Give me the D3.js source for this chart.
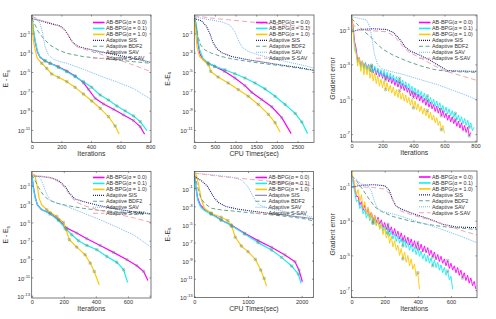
<!DOCTYPE html>
<html>
<head>
<meta charset="utf-8">
<script src="https://cdn.jsdelivr.net/npm/d3@7"></script>
<style>
  body { margin: 0; background: #fff; }
  text { font-family: "Liberation Sans", Arial, Helvetica, sans-serif; fill: #333; }
</style>
</head>
<body>
<svg id="chart" width="496" height="319"></svg>
<script>
// Series names (legend order) and line styles
const seriesNames = ["AB-BPG(α = 0.0)", "AB-BPG(α = 0.1)", "AB-BPG(α = 1.0)",
  "Adaptive SIS", "Adaptive BDF2", "Adaptive SAV", "Adaptive S-SAV"];
const colors = ["#ff00ff", "#14eeee", "#ffc800", "#1c1c80", "#5ea68a", "#7ab8ee", "#f5a3b0"];
const dashes = [null, null, null, "1,1", "4,2.5", "1,1", "5,3"];
const widths = [1.2, 1.2, 1.2, 1.1, 1.0, 1.0, 1.0];

// All values are log10 of the plotted quantity.
// Smooth series: [iteration or CPU time, log10 value]

// ---- Panel 1: E - Es vs iterations
const p1A00 = [[0,0.9],[11,-0.66],[23,-1.86],[38,-2.9],[56,-3.48],[90,-3.86],[124,-4.1],[180,-4.45],[237,-4.9],[293,-5.41],[349,-6.1],[383,-6.79],[428,-7.72],[485,-8.31],[552,-8.86],[620,-9.45],[687,-10.03],[732,-10.66],[762,-11.45]];
const p1A01 = [[0,0.9],[11,-0.48],[23,-1.69],[38,-2.79],[56,-3.41],[90,-3.83],[124,-4.1],[180,-4.52],[237,-4.97],[293,-5.48],[349,-6.0],[405,-6.59],[462,-7.38],[518,-7.9],[575,-8.52],[631,-9.03],[687,-9.55],[732,-10.14],[778,-11.07]];
const p1A10 = [[0,0.9],[5,-0.31],[11,-1.69],[23,-2.72],[38,-3.59],[68,-4.1],[101,-4.62],[135,-5.21],[180,-5.55],[237,-6.0],[293,-6.59],[349,-7.28],[405,-8.0],[462,-8.76],[518,-9.62],[563,-10.59],[590,-11.41]];
const p1SIS = [[0,0.55],[56,0.31],[124,0.03],[192,-0.24],[225,-0.66],[259,-1.52],[282,-2.03],[316,-2.38],[372,-2.59],[462,-2.9],[575,-3.24],[687,-3.59],[805,-4.0]];
const p1BDF2 = [[0,0.55],[23,-0.14],[45,-0.83],[79,-1.52],[124,-2.21],[180,-2.72],[237,-3.07],[349,-3.41],[462,-3.59],[575,-3.76],[687,-3.93],[805,-4.1]];
const p1SAV = [[0,0.72],[34,0.55],[56,0.03],[74,-1],[90,-2.38],[113,-3.24],[147,-3.69],[192,-3.93],[237,-4.1],[349,-4.72],[462,-5.41],[575,-6.03],[687,-6.72],[805,-7.83]];
const p1SSAV = [[0,0.79],[56,0.38],[124,0.1],[192,-0.31],[237,-0.83],[270,-1.86],[304,-2.38],[372,-2.72],[462,-3.14],[575,-3.69],[687,-4.28],[805,-4.97]];

// ---- Panel 2: E - Es vs CPU time (sec)
const p2A00 = [[0,0.88],[49,-0.32],[89,-2.03],[130,-3.05],[211,-3.74],[333,-4.08],[495,-4.42],[739,-4.94],[983,-5.62],[1226,-6.41],[1389,-7.1],[1632,-7.85],[1876,-8.6],[2119,-9.73],[2347,-11.38]];
const p2A01 = [[0,0.88],[49,-0.14],[89,-1.68],[130,-2.71],[211,-3.57],[333,-4.08],[495,-4.42],[739,-4.77],[983,-5.18],[1226,-5.62],[1470,-6.14],[1713,-6.75],[1957,-7.51],[2200,-8.36],[2444,-9.29],[2606,-10.18],[2745,-11.38]];
const p2A10 = [[0,0.88],[32,-0.66],[65,-2.37],[130,-3.4],[252,-3.91],[349,-4.25],[398,-4.94],[577,-5.52],[820,-6.14],[1064,-6.82],[1307,-7.51],[1551,-8.36],[1795,-9.39],[1957,-10.25],[2079,-11.21]];
const p2SIS = [[0,0.54],[171,0.3],[292,-0.25],[374,-1],[455,-1.96],[536,-2.54],[658,-2.99],[901,-3.4],[1307,-3.74],[1713,-4.01],[2119,-4.29],[2525,-4.53],[2900,-4.84]];
const p2BDF2 = [[0,0.55],[49,-0.32],[89,-1.34],[154,-2.2],[252,-2.71],[414,-3.05],[658,-3.4],[901,-3.64],[1307,-3.91],[1713,-4.15],[2119,-4.36],[2525,-4.6],[2900,-4.84]];
const p2SAV = [[0,0.71],[333,0.44],[658,0.2],[861,-0.14],[983,-0.83],[1064,-1.68],[1161,-2.47],[1307,-2.88],[1551,-3.23],[1876,-3.57],[2282,-3.98],[2688,-4.36],[2900,-4.6]];
const p2SSAV = [[0,0.82],[495,0.54],[901,0.37],[1307,0.2],[1713,0.03],[2119,-0.11],[2525,-0.25],[2900,-0.38]];

// ---- Panel 4: E - Es vs iterations
const p4A00 = [[0,0.38],[10,-1.07],[21,-2.16],[35,-3.07],[62,-3.62],[115,-3.98],[167,-4.71],[219,-5.62],[281,-6.16],[344,-6.78],[427,-7.51],[510,-8.27],[594,-9.07],[656,-9.73],[698,-10.35],[725,-11.33]];
const p4A01 = [[0,0.38],[10,-1.25],[23,-2.45],[42,-3.25],[73,-3.69],[115,-4.09],[167,-4.78],[208,-5.62],[250,-6.35],[292,-7.0],[344,-7.51],[406,-7.98],[469,-8.71],[531,-9.36],[573,-10.16],[598,-11.55]];
const p4A10 = [[0,0.38],[21,0.09],[35,-1.07],[46,-2.35],[62,-3.07],[94,-3.62],[156,-4.35],[198,-5.0],[215,-5.8],[235,-6.89],[281,-7.69],[333,-8.53],[365,-9.44],[390,-10.35],[421,-11.8]];
const p4SIS = [[0,0.09],[52,0.02],[115,-0.09],[167,-0.42],[208,-1.07],[240,-1.91],[271,-2.45],[344,-2.82],[427,-3.18],[531,-3.55],[635,-3.84],[744,-4.05]];
const p4BDF2 = [[0,0.2],[21,-0.42],[42,-1.15],[69,-1.91],[104,-2.53],[156,-2.89],[219,-3.15],[323,-3.47],[427,-3.69],[531,-3.84],[635,-3.95],[744,-4.09]];
const p4SAV = [[0,0.2],[42,0.02],[62,-0.42],[79,-1.25],[98,-2.09],[119,-2.6],[156,-2.89],[219,-3.25],[323,-3.98],[427,-4.71],[531,-5.51],[635,-6.35],[744,-7.69]];
const p4SSAV = [[0,0.2],[73,0.02],[135,-0.24],[187,-0.78],[229,-1.8],[271,-2.71],[323,-3.15],[427,-3.69],[531,-4.09],[635,-4.49],[744,-5.0]];

// ---- Panel 5: E - Es vs CPU time (sec)
const p5A00 = [[0,0.66],[25,-0.63],[63,-2.11],[113,-2.85],[188,-3.32],[313,-3.77],[500,-4.51],[688,-5.06],[938,-5.98],[1188,-6.79],[1438,-7.53],[1688,-8.38],[1875,-9.12],[1950,-10.04],[2013,-11.33]];
const p5A01 = [[0,0.66],[25,-0.82],[63,-2.29],[113,-3.03],[188,-3.47],[313,-3.88],[500,-4.51],[688,-5.13],[938,-6.06],[1188,-7.01],[1438,-7.83],[1625,-8.64],[1813,-9.6],[1938,-10.48],[1988,-11.52]];
const p5A10 = [[0,0.66],[44,0.37],[81,-0.63],[125,-2.11],[188,-3.21],[313,-3.77],[500,-4.21],[625,-4.58],[700,-5.24],[763,-6.42],[875,-7.38],[1000,-8.01],[1138,-8.86],[1238,-10.04],[1300,-10.96],[1344,-11.81]];
const p5SIS = [[0,0.29],[125,-0.15],[238,-0.74],[313,-1.48],[375,-2.11],[450,-2.59],[594,-3.03],[813,-3.32],[1125,-3.58],[1438,-3.8],[1750,-4.03],[2063,-4.25],[2220,-4.39]];
const p5BDF2 = [[0,0.48],[44,-0.45],[81,-1.37],[125,-2.11],[188,-2.66],[313,-3.21],[500,-3.4],[813,-3.58],[1125,-3.77],[1438,-3.95],[1750,-4.14],[2063,-4.39],[2220,-4.62]];
const p5SAV = [[0,0.66],[375,0.44],[688,0.22],[875,-0.08],[988,-0.74],[1063,-1.55],[1138,-2.37],[1219,-2.88],[1375,-3.21],[1625,-3.51],[1938,-3.84],[2220,-4.21]];
const p5SSAV = [[0,0.66],[375,0.37],[688,0.18],[1000,0],[1313,-0.19],[1625,-0.37],[1938,-0.56],[2220,-0.74]];

// ---- Panels 3 and 6: gradient error vs iterations
const p3SIS = [[0,-1.13],[54,-1],[141,-0.96],[227,-1],[270,-1.17],[313,-1.58],[346,-2],[378,-2.23],[443,-2.48],[508,-2.77],[573,-3.12],[616,-3.35],[681,-3.38],[810,-3.4]];
const p3BDF2 = [[0,-0.37],[32,-0.65],[76,-1.08],[119,-1.38],[162,-1.81],[205,-2.15],[270,-2.48],[357,-2.81],[443,-3.08],[530,-3.29],[616,-3.4],[810,-3.46]];
const p3SAV = [[0,-0.27],[54,-0.37],[97,-0.46],[119,-0.85],[134,-1.62],[147,-2.38],[166,-2.96],[195,-3.25],[249,-3.4],[335,-3.58],[443,-3.87],[551,-4.15],[659,-4.5],[746,-4.79],[810,-5.04]];
const p3SSAV = [[0,-0.65],[54,-1.04],[141,-1.08],[227,-1.13],[281,-1.42],[324,-1.9],[368,-2.29],[443,-2.62],[530,-3.06],[595,-3.35],[681,-3.58],[810,-3.92]];

const p6SIS = [[0,-1.08],[50,-0.96],[131,-0.92],[201,-0.98],[227,-1.23],[247,-1.75],[267,-2.14],[301,-2.33],[371,-2.59],[472,-2.91],[552,-3.21],[633,-3.36],[757,-3.4]];
const p6BDF2 = [[0,-0.4],[30,-0.69],[70,-1.23],[106,-1.75],[141,-2.2],[181,-2.47],[251,-2.76],[351,-3.01],[452,-3.2],[552,-3.34],[673,-3.44],[757,-3.5]];
const p6SAV = [[0,-0.4],[60,-0.88],[100,-0.98],[120,-1.31],[141,-1.95],[161,-2.33],[191,-2.47],[271,-2.66],[371,-2.97],[472,-3.26],[572,-3.59],[673,-3.94],[757,-4.27]];
const p6SSAV = [[0,-0.5],[50,-1.04],[131,-1.08],[201,-1.17],[231,-1.46],[261,-2.04],[295,-2.43],[371,-2.68],[472,-2.95],[572,-3.26],[673,-3.59],[757,-3.82]];

// Noisy AB-BPG gradient errors: log10 values sampled every 10 iterations
const gradStep = 10;
const p3A00 = [-0.2,-0.8,-1.7,-2.1,-2.8,-2.6,-3.1,-2.8,-3.2,-2.9,-3.3,-3.0,-3.4,-3.1,-3.5,-3.2,-3.6,-3.3,-3.7,-3.4,-3.8,-3.5,-3.9,-3.6,-4.0,-3.7,-4.1,-3.8,-4.2,-3.9,-4.3,-4.0,-4.4,-4.1,-4.5,-4.2,-4.6,-4.35,-4.8,-4.5,-4.9,-4.6,-5.0,-4.7,-5.1,-4.8,-5.2,-4.95,-5.35,-5.05,-5.45,-5.15,-5.55,-5.3,-5.7,-5.4,-5.8,-5.5,-5.95,-5.65,-6.05,-5.8,-6.2,-5.9,-6.3,-6.0,-6.4,-6.15,-6.55,-6.25,-6.65,-6.35,-6.8,-6.5,-6.9,-6.6,-7.1,-6.9];
const p3A01 = [-0.3,-1.1,-1.9,-2.3,-2.9,-2.7,-3.2,-2.8,-3.3,-2.9,-3.35,-3.0,-3.4,-3.05,-3.45,-3.1,-3.5,-3.2,-3.6,-3.3,-3.7,-3.35,-3.75,-3.45,-3.85,-3.5,-3.9,-3.6,-4.0,-3.7,-4.1,-3.8,-4.2,-3.9,-4.3,-4.0,-4.4,-4.1,-4.55,-4.25,-4.65,-4.35,-4.75,-4.45,-4.85,-4.55,-4.95,-4.65,-5.05,-4.8,-5.2,-4.9,-5.3,-5.0,-5.4,-5.1,-5.5,-5.2,-5.6,-5.35,-5.75,-5.45,-5.85,-5.55,-5.95,-5.65,-6.05,-5.8,-6.2,-5.9,-6.3,-6.0,-6.4,-6.1,-6.5,-6.2,-6.6,-6.35,-6.8,-6.6];
const p3A10 = [-0.1,-1.0,-2.2,-2.4,-3.1,-2.6,-3.4,-2.8,-3.6,-3.0,-3.6,-3.1,-3.8,-3.35,-3.95,-3.5,-4.1,-3.65,-4.25,-3.85,-4.35,-3.95,-4.45,-4.05,-4.55,-4.2,-4.65,-4.3,-4.8,-4.45,-4.9,-4.5,-5.0,-4.65,-5.1,-4.75,-5.2,-4.9,-5.35,-5.0,-5.5,-5.1,-5.6,-5.25,-5.7,-5.4,-5.85,-5.5,-5.95,-5.65,-6.1,-5.75,-6.2,-5.9,-6.35,-6.05,-6.5,-6.25,-6.75,-6.5,-6.95];
const p6A00 = [-0.2,-0.6,-1.1,-1.6,-1.6,-2.1,-1.9,-2.4,-2.1,-2.6,-2.3,-2.8,-2.5,-3.0,-2.7,-3.1,-2.8,-3.2,-2.95,-3.4,-3.1,-3.5,-3.2,-3.65,-3.35,-3.8,-3.45,-3.9,-3.6,-4.05,-3.7,-4.15,-3.85,-4.3,-3.95,-4.4,-4.05,-4.5,-4.15,-4.6,-4.25,-4.7,-4.35,-4.8,-4.45,-4.85,-4.55,-5.0,-4.7,-5.1,-4.8,-5.25,-4.95,-5.35,-5.05,-5.45,-5.2,-5.6,-5.3,-5.75,-5.45,-5.85,-5.6,-6.0,-5.7,-6.15,-5.85,-6.3,-6.0,-6.45,-6.15,-6.6,-6.3,-6.75,-6.5,-6.95];
const p6A01 = [-0.3,-0.9,-1.4,-1.9,-1.8,-2.3,-2.1,-2.6,-2.35,-2.85,-2.55,-3.0,-2.7,-3.15,-2.85,-3.3,-3.0,-3.45,-3.15,-3.6,-3.3,-3.75,-3.45,-3.9,-3.6,-4.05,-3.75,-4.2,-3.85,-4.3,-4.0,-4.45,-4.1,-4.55,-4.25,-4.7,-4.35,-4.8,-4.5,-4.95,-4.6,-5.05,-4.75,-5.2,-4.9,-5.35,-5.0,-5.45,-5.15,-5.6,-5.25,-5.7,-5.4,-5.85,-5.55,-6.0,-5.7,-6.15,-5.9,-6.4,-6.2,-6.95];
const p6A10 = [-0.1,-0.5,-1.0,-1.5,-1.2,-1.9,-1.5,-2.3,-1.9,-2.6,-2.2,-2.9,-2.5,-3.1,-2.7,-3.3,-2.9,-3.5,-3.2,-3.8,-3.4,-4.0,-3.7,-4.3,-3.9,-4.5,-4.15,-4.7,-4.4,-5.0,-4.6,-5.2,-4.8,-5.4,-5.0,-5.6,-5.2,-5.8,-5.5,-6.2,-6.0,-6.95];

// Tick values (log10 exponents for the y axes)
const xTicksIter800 = [0, 200, 400, 600, 800];
const xTicksIter600 = [0, 200, 400, 600];
const xTicksCpu2 = [0, 500, 1000, 1500, 2000, 2500];
const xTicksCpu5 = [0, 1000, 2000];
const yTicksTop = [-1, -3, -5, -7, -9, -11];
const yTicksBottom = [-1, -3, -5, -7, -9, -11, -13];
const yTicksGrad = [-1, -3, -5, -7];

const withIters = arr => arr.map((v, i) => [i * gradStep, v]);

// Panel layout
const panels = [
  { box: [31.7, 15, 151, 142.5], xMax: 805, yExp: [-12.3, 0.9], xTicks: xTicksIter800, yTicks: yTicksTop,
    xLabel: "Iterations", yLabel: "E - E", ySub: "s", ylx: 8,
    series: [p1A00, p1A01, p1A10, p1SIS, p1BDF2, p1SAV, p1SSAV], noisy: false },
  { box: [194.3, 15, 314, 142.5], xMax: 2900, yExp: [-12.3, 0.9], xTicks: xTicksCpu2, yTicks: yTicksTop,
    xLabel: "CPU Times(sec)", yLabel: "E-E", ySub: "s", ylx: 169.5,
    series: [p2A00, p2A01, p2A10, p2SIS, p2BDF2, p2SAV, p2SSAV], noisy: false },
  { box: [351.5, 15, 477, 142], xMax: 810, yExp: [-7.45, -0.17], xTicks: xTicksIter800, yTicks: yTicksGrad,
    xLabel: "Iterations", yLabel: "Gradient error", ySub: "", ylx: 335,
    series: [withIters(p3A00), withIters(p3A01), withIters(p3A10), p3SIS, p3BDF2, p3SAV, p3SSAV], noisy: true },
  { box: [31.7, 171.5, 151, 298], xMax: 744, yExp: [-13.25, 0.56], xTicks: xTicksIter600, yTicks: yTicksBottom,
    xLabel: "Iterations", yLabel: "E - E", ySub: "s", ylx: 8,
    series: [p4A00, p4A01, p4A10, p4SIS, p4BDF2, p4SAV, p4SSAV], noisy: false },
  { box: [194.3, 171.5, 313.5, 297.5], xMax: 2220, yExp: [-13.07, 0.84], xTicks: xTicksCpu5, yTicks: yTicksBottom,
    xLabel: "CPU Times(sec)", yLabel: "E-E", ySub: "s", ylx: 169.5,
    series: [p5A00, p5A01, p5A10, p5SIS, p5BDF2, p5SAV, p5SSAV], noisy: false },
  { box: [351.5, 171, 477, 297.7], xMax: 757, yExp: [-7.44, -0.13], xTicks: xTicksIter600, yTicks: yTicksGrad,
    xLabel: "Iterations", yLabel: "Gradient error", ySub: "", ylx: 335,
    series: [withIters(p6A00), withIters(p6A01), withIters(p6A10), p6SIS, p6BDF2, p6SAV, p6SSAV], noisy: true }
];

const svg = d3.select("#chart");
const defs = svg.append("defs");
const pow10 = e => Math.pow(10, e);

panels.forEach((p, pi) => {
  const [x0, y0, x1, y1] = p.box;
  const x = d3.scaleLinear().domain([0, p.xMax]).range([x0, x1]);
  const y = d3.scaleLog().domain([pow10(p.yExp[0]), pow10(p.yExp[1])]).range([y1, y0]);

  defs.append("clipPath").attr("id", "clip" + pi)
    .append("rect").attr("x", x0).attr("y", y0).attr("width", x1 - x0).attr("height", y1 - y0);

  const g = svg.append("g");
  const plot = g.append("g").attr("clip-path", `url(#clip${pi})`);

  const line = d3.line().x(d => x(d[0])).y(d => y(pow10(d[1])));

  p.series.forEach((s, si) => {
    plot.append("path")
      .datum(s)
      .attr("d", line)
      .attr("fill", "none")
      .attr("stroke", colors[si])
      .attr("stroke-width", p.noisy && si < 3 ? 0.9 : widths[si])
      .attr("stroke-dasharray", dashes[si])
      .attr("stroke-linejoin", "round");
  });

  // restart markers on the AB-BPG curves
  p.series.slice(0, 3).forEach(s => {
    const pts = p.noisy ? s.filter((d, i) => i > 8 && i % 9 === 4) : s.filter((d, i) => i >= 5 && i < s.length - 1);
    const m = plot.append("g").selectAll("g").data(pts).join("g")
      .attr("transform", d => `translate(${x(d[0])},${y(pow10(d[1]))})`)
      .attr("stroke", "#5f8f72").attr("stroke-width", 0.45).attr("fill", "none").attr("opacity", 0.8);
    m.append("circle").attr("r", 1.3);
    m.append("path").attr("d", "M-1.3,-1.3L1.3,1.3M-1.3,1.3L1.3,-1.3");
  });

  // axes (ticks inside, on all four sides)
  const tickLen = -1.6;
  const yVals = p.yTicks.map(pow10);
  const ax = g.append("g").attr("transform", `translate(0,${y1})`)
    .call(d3.axisBottom(x).tickValues(p.xTicks).tickSize(tickLen).tickPadding(2.2).tickFormat(d3.format("d")));
  g.append("g").attr("transform", `translate(0,${y0})`)
    .call(d3.axisTop(x).tickValues(p.xTicks).tickSize(tickLen).tickFormat(""));
  const ay = g.append("g").attr("transform", `translate(${x0},0)`)
    .call(d3.axisLeft(y).tickValues(yVals).tickSize(tickLen).tickPadding(1.6).tickFormat(""));
  g.append("g").attr("transform", `translate(${x1},0)`)
    .call(d3.axisRight(y).tickValues(yVals).tickSize(tickLen).tickFormat(""));

  g.selectAll(".domain").remove();
  g.selectAll(".tick line").attr("stroke", "#333").attr("stroke-width", 0.5);
  ax.selectAll(".tick text").attr("font-size", 5.6).attr("fill", "#333");

  ay.selectAll(".tick text").each(function (d) {
    const t = d3.select(this).attr("font-size", 5.9).attr("fill", "#333").attr("dy", "0.5em");
    t.append("tspan").text("10");
    t.append("tspan").attr("font-size", 4.3).attr("dy", "-0.75em").text(Math.round(Math.log10(d)));
  });

  // frame
  g.append("rect").attr("x", x0).attr("y", y0).attr("width", x1 - x0).attr("height", y1 - y0)
    .attr("fill", "none").attr("stroke", "#444").attr("stroke-width", 0.7);

  // axis labels
  g.append("text").attr("x", (x0 + x1) / 2).attr("y", y1 + 13)
    .attr("text-anchor", "middle").attr("font-size", 6.8).text(p.xLabel);
  const yl = g.append("text")
    .attr("transform", `translate(${p.ylx},${(y0 + y1) / 2}) rotate(-90)`)
    .attr("text-anchor", "middle").attr("font-size", 6.8);
  yl.append("tspan").text(p.yLabel);
  if (p.ySub) yl.append("tspan").attr("font-size", 4.8).attr("dy", "0.35em").text(p.ySub);

  // legend
  const lg = g.append("g").attr("transform", `translate(${x1 - 58},${y0 + (pi < 3 ? 7.5 : 6)})`);
  seriesNames.forEach((name, si) => {
    const row = lg.append("g").attr("transform", `translate(0,${si * 5.95})`);
    row.append("line").attr("x1", 0).attr("x2", 11.5).attr("y1", 0).attr("y2", 0)
      .attr("stroke", colors[si]).attr("stroke-width", si < 3 ? 1.6 : 1.1)
      .attr("stroke-dasharray", dashes[si]);
    row.append("text").attr("x", 13).attr("y", 0).attr("dy", "0.35em")
      .attr("font-size", 5.4).text(name);
  });
});
</script>
</body>
</html>
